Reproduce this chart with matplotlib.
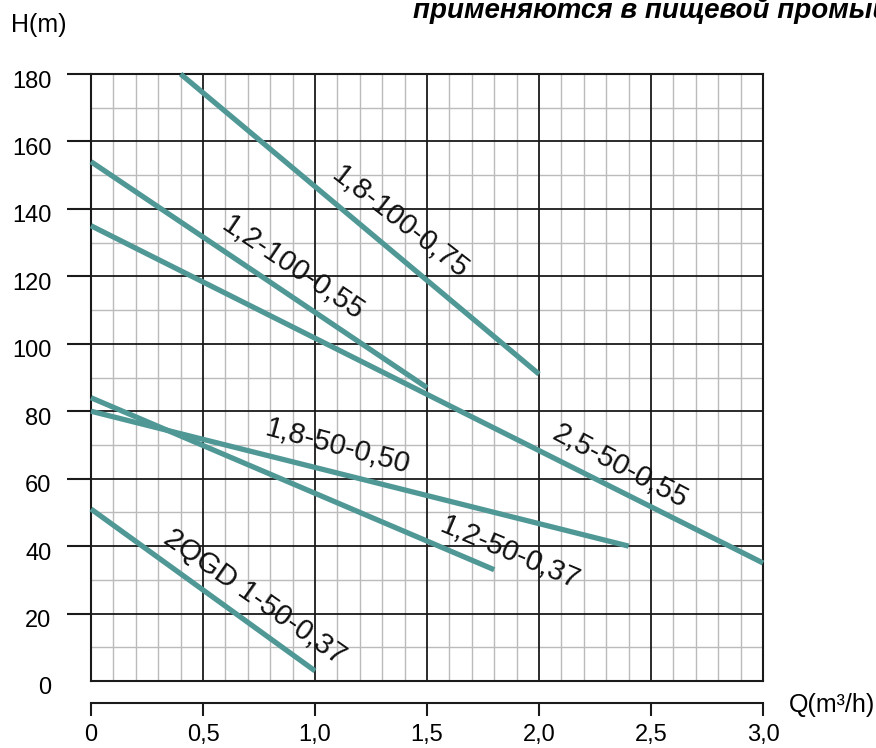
import matplotlib.pyplot as plt
import matplotlib.transforms as mtransforms
import numpy as np

plt.rcParams['font.family'] = ['Liberation Sans', 'DejaVu Sans']

# pump curves: Q (m3/h) vs H (m)
q_18_100 = [0.4, 2.0]
h_18_100 = [180, 91]
q_12_100 = [0.0, 1.5]
h_12_100 = [154, 87]
q_25_50 = [0.0, 3.0]
h_25_50 = [135, 35]
q_18_50 = [0.0, 2.4]
h_18_50 = [80, 40]
q_12_50 = [0.0, 1.8]
h_12_50 = [84, 33]
q_1_50 = [0.0, 1.0]
h_1_50 = [51, 3]

names = ['1,8-100-0,75', '1,2-100-0,55', '2,5-50-0,55',
         '1,8-50-0,50', '1,2-50-0,37', '2QGD 1-50-0,37']
# label anchor (Q, H) and angle
lab_q = [1.38, 0.90, 2.36, 1.10, 1.87, 0.73]
lab_h = [136, 122.5, 63.5, 69.5, 38, 25]
lab_rot = [-38, -34, -28, -15, -23, -35]

xticks = [0, 0.5, 1.0, 1.5, 2.0, 2.5, 3.0]
xtick_labels = ['0', '0,5', '1,0', '1,5', '2,0', '2,5', '3,0']
yticks = [0, 20, 40, 60, 80, 100, 120, 140, 160, 180]

W, H = 876, 748
fig = plt.figure(figsize=(W/100, H/100), dpi=100)
x0, x1, y0, y1 = 91, 763, 74, 681
ax = fig.add_axes([x0/W, 1 - y1/H, (x1-x0)/W, (y1-y0)/H])
ax.set_xlim(0, 3.0)
ax.set_ylim(0, 180)

# grid
for v in np.arange(0.1, 3.0, 0.1):
    if abs(v/0.5 - round(v/0.5)) < 1e-6:
        ax.axvline(v, color='#1a1a1a', lw=1.3, zorder=1)
    else:
        ax.axvline(v, color='#bbbbbb', lw=1.0, zorder=0)
for v in range(10, 180, 10):
    if v % 20 == 0:
        ax.axhline(v, color='#1a1a1a', lw=1.3, zorder=1)
    else:
        ax.axhline(v, color='#bbbbbb', lw=1.0, zorder=0)

teal = '#4f9896'
curves = [(q_18_100, h_18_100), (q_12_100, h_12_100), (q_25_50, h_25_50),
          (q_18_50, h_18_50), (q_12_50, h_12_50), (q_1_50, h_1_50)]
for q, h in curves:
    ax.plot(q, h, color=teal, lw=3.8, solid_capstyle='butt', zorder=3, clip_on=False)

for name, lq, lh, r in zip(names, lab_q, lab_h, lab_rot):
    ax.text(lq, lh, name, rotation=r, fontsize=21, ha='center', va='center',
            rotation_mode='anchor', color='#111111', zorder=4)

for s in ax.spines.values():
    s.set_color('#1a1a1a')
    s.set_linewidth(1.5)

ax.set_xticks([])
ax.set_yticks(yticks)
ax.set_yticklabels([str(v) for v in yticks], fontsize=17)
ax.tick_params(axis='y', length=17.5, width=1.5, color='#1a1a1a', pad=11)
ax.yaxis.get_major_ticks()[0].tick1line.set_visible(False)
off = mtransforms.ScaledTranslation(0, -5/100, fig.dpi_scale_trans)
for lbl in ax.get_yticklabels():
    lbl.set_transform(lbl.get_transform() + off)

# separate Q axis below the grid
sec = ax.secondary_xaxis(-22/(y1-y0))
sec.set_xticks(xticks)
sec.set_xticklabels(xtick_labels, fontsize=17)
sec.tick_params(axis='x', direction='out', length=9, width=1.5, color='#1a1a1a', pad=6)
sec.spines['bottom'].set_linewidth(1.5)
sec.spines['bottom'].set_color('#1a1a1a')

fig.text(789/W, 1 - 705/H, 'Q(m³/h)', fontsize=18, ha='left', va='center')
fig.text(11/W, 1 - 25/H, 'H(m)', fontsize=18, ha='left', va='center')
fig.text(413/W, 1 - 18/H, 'применяются в пищевой промышленности', fontsize=20,
         fontweight='bold', fontstyle='italic', ha='left', va='baseline')

fig.savefig('out.png', dpi=100)
